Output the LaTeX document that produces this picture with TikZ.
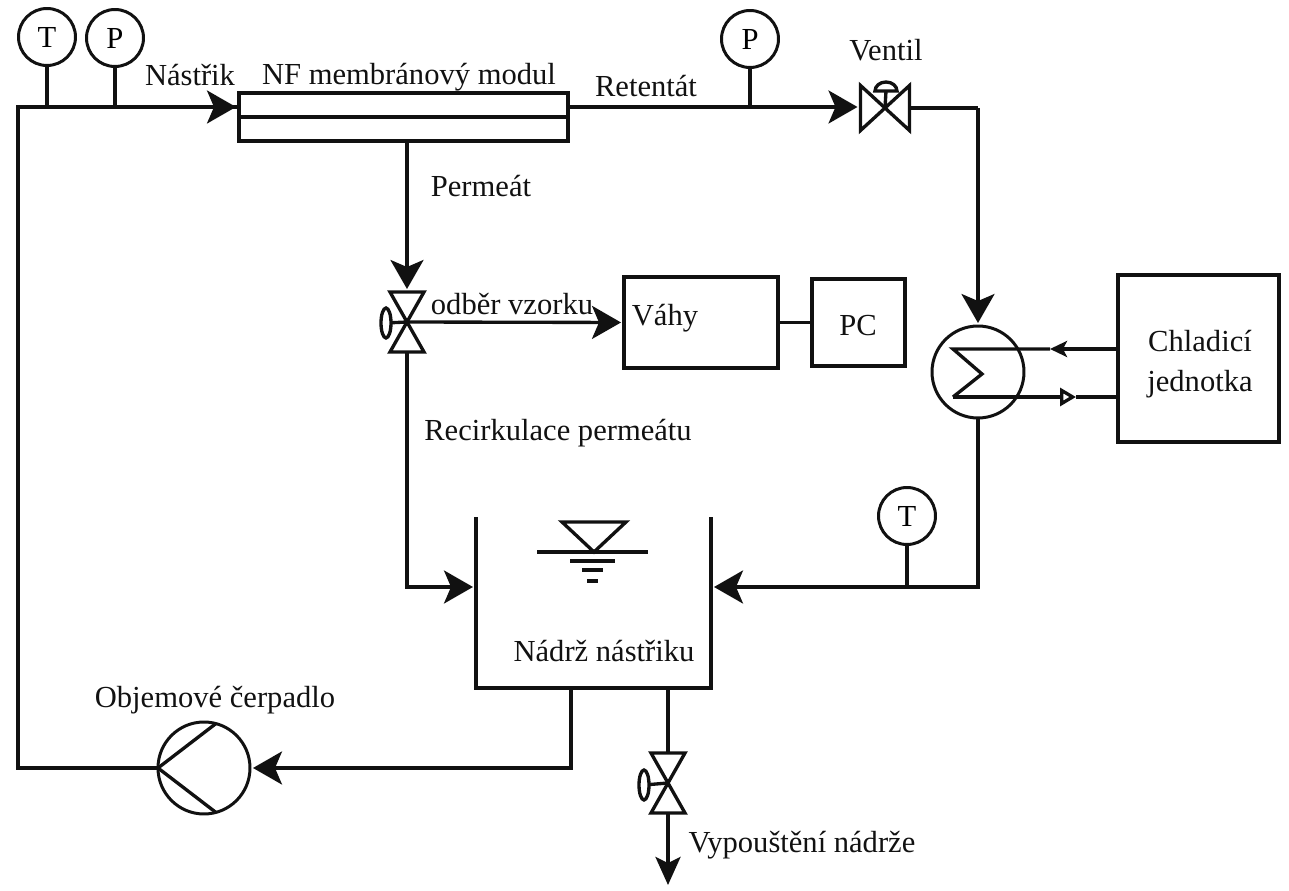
\documentclass[tikz,border=0pt]{standalone}
\usepackage{fontspec}
\setmainfont{Liberation Serif}
\usetikzlibrary{arrows.meta,positioning,shapes.geometric}
\definecolor{ink}{HTML}{111111}
\tikzset{
  pipe/.style={
    draw=ink,
    line width=1.9pt
  },
  flow/.style={
    pipe,
    -{Stealth[length=0.58cm,width=0.66cm,inset=0.14cm]},
    shorten >=0.06cm
  },
  smallflow/.style={
    pipe,
    -{Stealth[length=0.34cm,width=0.32cm,inset=0.08cm]}
  },
  openflow/.style={
    pipe,
    -{Triangle[open,length=0.32cm,width=0.36cm]}
  },
  unit/.style={
    rectangle,
    draw=ink,
    line width=1.9pt,
    align=center,
    inner sep=0pt,
    outer sep=0pt
  },
  gauge/.style={
    circle,
    draw=ink,
    line width=1.7pt,
    minimum size=1.14cm,
    inner sep=0pt,
    outer sep=0pt
  },
  machine/.style={
    circle,
    draw=ink,
    line width=1.7pt,
    minimum size=1.84cm,
    inner sep=0pt,
    outer sep=0pt
  },
  valve/.style={
    rectangle,
    inner sep=0pt,
    outer sep=0pt,
    minimum width=0.68cm,
    minimum height=1.2cm
  },
  handle/.style={
    ellipse,
    draw=ink,
    line width=1.9pt,
    minimum width=0.2cm,
    minimum height=0.6cm,
    inner sep=0pt,
    outer sep=0pt
  },
  caption/.style={
    inner sep=0pt,
    text=ink,
    align=center
  }
}

\begin{document}
\begin{tikzpicture}[
  x=0.02cm, y=-0.02cm,
  font=\fontsize{17.4}{23}\selectfont
]
\useasboundingbox (0,0) rectangle (1289,891);

% Membrane module and its gauges.
\node[unit, minimum width=6.58cm, minimum height=0.96cm] (module) at (403.5,117) {};
\draw[pipe] (module.west) -- (module.east);
\node[gauge] (gaugeT) at (47,37) {T};
\node[gauge] (gaugeP) at (115,38) {P};
\node[gauge] (gaugeR) at (750,39) {P};
\node[gauge] (gaugeC) at (907,516) {T};

% Valves.
\node[valve, minimum width=0.98cm, minimum height=0.9cm] (ventil) at (885,108) {};
\node[valve] (sampling) at (407,322) {};
\node[valve] (drain) at (668,783) {};
\draw[pipe] (ventil.north west) -- (ventil.south west) -- (ventil.north east) -- (ventil.south east) -- cycle;
\draw[pipe] (sampling.north west) -- (sampling.south east) -- (sampling.south west) -- (sampling.north east) -- cycle;
\draw[pipe] (drain.north west) -- (drain.south east) -- (drain.south west) -- (drain.north east) -- cycle;
\node[handle] (samplinghandle) at (386,323) {};
\node[handle] (drainhandle) at (644,785) {};
\draw[pipe] (samplinghandle) -- (sampling.center);
\draw[pipe] (drainhandle) -- (drain.center);
\coordinate (ventilhandle) at (886,91);
\draw[pipe] (ventil.center) -- (ventilhandle);
\draw[pipe] (ventilhandle) ++(-11,0) arc[start angle=180,end angle=360,x radius=11,y radius=9] -- cycle;

% Scale, computer and cooling unit.
\node[unit, minimum width=3.08cm, minimum height=1.82cm] (vahy) at (701,322.5) {};
\node[unit, minimum width=1.86cm, minimum height=1.74cm, right=0.68cm of vahy] (pc) {};
\node[unit, minimum width=3.22cm, minimum height=3.34cm] (chiller) at (1198.5,358.5) {};
\node[machine] (cooler) at (978,372) {};
\node[machine] (pump) at (204,768) {};
\draw[pipe] (pump.75) -- (pump.west) -- (pump.-75);

% Feed tank with level mark.
\node[valve, minimum width=4.7cm, minimum height=3.42cm] (tank) at (593.5,602.5) {};
\draw[pipe] (tank.north west) -- (tank.south west) -- (tank.south east) -- (tank.north east);
\coordinate (levelleft) at (537,552);
\coordinate (levelright) at (648,552);
\coordinate (leveltip) at (594,552);
\draw[pipe] (levelleft) -- (levelright);
\draw[pipe] (leveltip) -- (562,522) -- (626,522) -- cycle;
\draw[pipe] (570,561) -- (615,561);
\draw[pipe] (582,570) -- (603,570);
\draw[pipe] (587,581) -- (598,581);

% Free ends and bends of the lines.
\coordinate (feedin) at (239,107);
\coordinate (loopcorner) at (18,107);
\coordinate (retout) at (568,107);
\coordinate (retbend) at (978,108);
\coordinate (recin) at (476,587);
\coordinate (returnin) at (711,587);
\coordinate (tankout) at (571,688);
\coordinate (drainout) at (668,888);
\coordinate (coolin) at (1118,349);
\coordinate (coolout) at (1118,397);
\coordinate (zigtop) at (953,349);
\coordinate (zigmid) at (982,374);
\coordinate (zigend) at (953,397);
\coordinate (coolinarrow) at (1050,349);
\coordinate (cooloutarrow) at (1076,397);

% Main loop.
\draw[pipe] (pump.west) -| (loopcorner) -- (feedin);
\draw[flow] (loopcorner) -- (feedin);
\draw[pipe] (gaugeT.south) -- (gaugeT.south |- feedin);
\draw[pipe] (gaugeP.south) -- (gaugeP.south |- feedin);
\draw[flow] (retout) -- (ventil.west |- retout);
\draw[pipe] (gaugeR.south) -- (gaugeR.south |- retout);
\draw[pipe] (ventil.east) -- (retbend);
\draw[flow] (retbend) -- (cooler.north);
\draw[flow] (cooler.south) |- (returnin);
\draw[pipe] (gaugeC.south) -- (gaugeC.south |- returnin);
\draw[flow] (tankout) |- (pump.east);

% Permeate line.
\draw[flow] (sampling.north |- module.south) -- (sampling.north);
\draw[flow] (sampling.center) -- (vahy.west);
\draw[flow] (sampling.south) |- (recin);
\draw[pipe] (vahy.east |- pc.west) -- (pc.west);

% Tank drain.
\draw[pipe] (drain.north |- tank.south) -- (drain.north);
\draw[flow, -{Stealth[length=0.56cm,width=0.5cm,inset=0.12cm]}] (drain.south) -- (drainout);

% Cooling circuit.
\draw[pipe] (coolinarrow) -- (zigtop) -- (zigmid) -- (zigend);
\draw[smallflow] (coolin) -- (coolinarrow);
\draw[openflow] (zigend) -- (cooloutarrow);
\draw[pipe] (cooloutarrow) -- (coolout);

% Texts.
\node[caption] (lblfeed) at (190,75) {Nástřik};
\node[caption] (lblmodule) at (409,77) {NF membránový modul};
\node[caption] (lblret) at (646,86) {Retentát};
\node[caption] (lblventil) at (886,50) {Ventil};
\node[caption] (lblperm) at (481,186) {Permeát};
\node[caption] (lblsample) at (512,304) {odběr vzorku};
\node[caption] (lblrec) at (558,433) {Recirkulace permeátu};
\node[caption] (lbltank) at (604,651) {Nádrž nástřiku};
\node[caption] (lblpump) at (215,700) {Objemové čerpadlo};
\node[caption] (lbldrain) at (802,845) {Vypouštění nádrže};
\node[caption] (lblvahy) at (665,318) {Váhy};
\node[caption] (lblpc) at (858,326) {PC};
\node[caption] (lblchiller) at (1200,364) {Chladicí\\jednotka};

\end{tikzpicture}
\end{document}
